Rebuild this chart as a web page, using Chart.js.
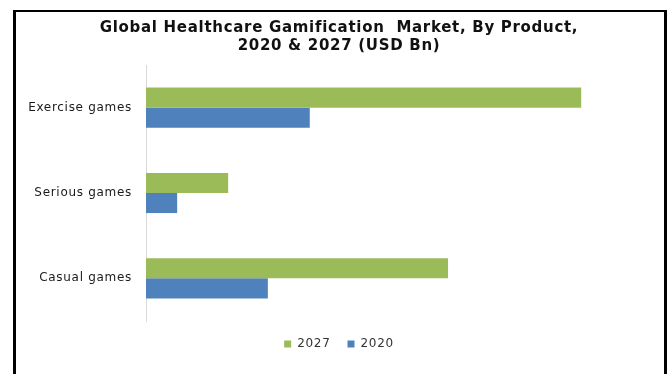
<!DOCTYPE html>
<html>
<head>
<meta charset="utf-8">
<script src="https://cdn.jsdelivr.net/npm/chart.js@4.4.1/dist/chart.umd.min.js"></script>
<style>
  html, body { margin: 0; padding: 0; background: #fff; }
  #wrap { position: absolute; left: 0; top: 0; width: 670px; height: 374px; }
  #frame {
    position: absolute; left: 13px; top: 10px; width: 654px; height: 400px;
    border: 3px solid #000; border-top-width: 2px; box-sizing: border-box; pointer-events: none;
  }
</style>
</head>
<body>
<div id="wrap"><canvas id="myChart" width="670" height="374"></canvas></div>
<div id="frame"></div>
<script>
//Chart data
const categories = ["Exercise games", "Serious games", "Casual games"];
const values2027 = [7.68, 1.45, 5.33];
const values2020 = [2.89, 0.55, 2.15];
const titleLines = ["Global Healthcare Gamification  Market, By Product,", "2020 & 2027 (USD Bn)"];

//The reference text is a bit stretched, so widen the letters
const spacing = {
  id: "spacing",
  beforeLayout: function(chart) { chart.ctx.letterSpacing = "0.7px"; },
  beforeDraw: function(chart) { chart.ctx.letterSpacing = "0.7px"; }
};

const ctx = document.getElementById("myChart");
const myChart = new Chart(ctx, {
  type: "bar",
  data: {
    labels: categories,
    datasets: [
      {
        label: "2027",
        data: values2027,
        backgroundColor: "#9BBB59",
        categoryPercentage: 0.47,
        barPercentage: 1.0
      },
      {
        label: "2020",
        data: values2020,
        backgroundColor: "#4F81BD",
        categoryPercentage: 0.47,
        barPercentage: 1.0
      }
    ]
  },
  plugins: [spacing],
  options: {
    indexAxis: "y",
    responsive: false,
    animation: false,
    layout: {
      padding: { left: 22, right: 14, top: 15, bottom: 14 }
    },
    scales: {
      x: {
        display: false,
        min: 0,
        max: 9
      },
      y: {
        afterFit: function(scale) { scale.width = 124; },
        grid: { display: false, drawTicks: false },
        border: { display: true, color: "#d9d9d9", width: 1 },
        ticks: {
          color: "#1a1a1a",
          padding: 14,
          font: { family: "DejaVu Sans", size: 12 }
        }
      }
    },
    plugins: {
      title: {
        display: true,
        text: titleLines,
        color: "#111",
        font: { family: "DejaVu Sans", size: 15, weight: "bold", lineHeight: 1.2 },
        padding: { top: 4, bottom: 10 }
      },
      legend: {
        position: "bottom",
        labels: {
          boxWidth: 7,
          boxHeight: 7,
          color: "#333",
          padding: 17,
          font: { family: "DejaVu Sans", size: 12 }
        }
      },
      tooltip: { enabled: false }
    }
  }
});
</script>
</body>
</html>
